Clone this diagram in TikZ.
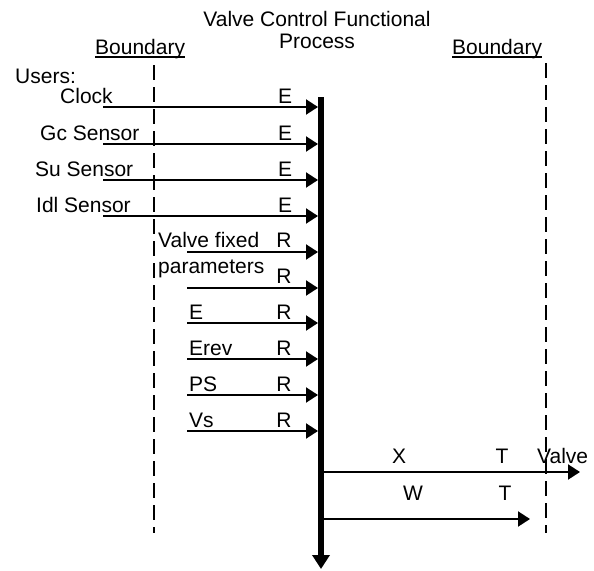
\documentclass[tikz,border=0pt]{standalone}
\usepackage{fontspec}
\setmainfont{Liberation Sans}
\usetikzlibrary{arrows.meta}
\begin{document}
\begin{tikzpicture}[x=1pt,y=-1pt,
  txt/.style={inner sep=0pt,font=\fontsize{21}{23}\selectfont},
  lbl/.style={txt,anchor=base west},
  clbl/.style={txt,anchor=base},
  flow/.style={line width=2pt,-{Triangle[length=12pt,width=15pt]}},
  bound/.style={line width=2pt,dash pattern=on 15pt off 7pt},
  uline/.style={line width=1.5pt}]
\useasboundingbox (0,0) rectangle (594,570);
% title
\node[clbl] (t1) at (317,26) {Valve Control Functional};
\node[clbl] (t2) at (317,48) {Process};
% boundaries
\node[lbl] (bl) at (95,54) {Boundary};
\node[lbl] (br) at (452,54) {Boundary};
\draw[uline] ([yshift=-3pt]bl.base west) -- ([yshift=-3pt]bl.base east);
\draw[uline] ([yshift=-3pt]br.base west) -- ([yshift=-3pt]br.base east);
\coordinate (blt) at (154,65); \coordinate (blb) at (154,533);
\coordinate (brt) at (546,63); \coordinate (brb) at (546,533);
\draw[bound] (blt) -- (blb);
\draw[bound] (brt) -- (brb);
% process line
\coordinate (ptop) at (321,97); \coordinate (pbot) at (321,569);
\draw[line width=6pt,-{Triangle[length=14pt,width=17pt]}] (ptop) -- (pbot);
% users
\node[lbl] (users) at (15,83) {Users:};
\node[lbl] (clock) at (60,103) {Clock};
\node[lbl] (gc) at (40,140) {Gc Sensor};
\node[lbl] (su) at (35,176) {Su Sensor};
\node[lbl] (idl) at (36,212) {Idl Sensor};
\foreach \n/\y/\b in {a/107/103,b/144/140,c/180/176,d/216/212}{
  \coordinate (s\n) at (103,\y);
  \coordinate (e\n) at (318,\y);
  \draw[flow] (s\n) -- (e\n);
  \node[clbl] (E\n) at (285,\b) {E};
}
% R rows
\node[lbl] (vf1) at (158,247) {Valve fixed};
\node[lbl] (vf2) at (158,273) {parameters};
\node[lbl] (rE) at (189,319) {E};
\node[lbl] (rErev) at (189,355) {Erev};
\node[lbl] (rPS) at (189,391) {PS};
\node[lbl] (rVs) at (189,427) {Vs};
\foreach \n/\y/\b in {1/252/247,2/288/283,3/323/319,4/359/355,5/395/391,6/431/427}{
  \coordinate (rs\n) at (187,\y);
  \coordinate (re\n) at (318,\y);
  \draw[flow] (rs\n) -- (re\n);
  \node[clbl] (R\n) at (284,\b) {R};
}
% outputs
\coordinate (xs) at (321,472); \coordinate (xe) at (580,472);
\coordinate (ws) at (321,519); \coordinate (we) at (530,519);
\draw[flow] (xs) -- (xe);
\draw[flow] (ws) -- (we);
\node[clbl] (X) at (399,463) {X};
\node[clbl] (T1) at (502,463) {T};
\node[lbl] (valve) at (537,463) {Valve};
\node[clbl] (W) at (413,500) {W};
\node[clbl] (T2) at (505,500) {T};
\end{tikzpicture}
\end{document}
